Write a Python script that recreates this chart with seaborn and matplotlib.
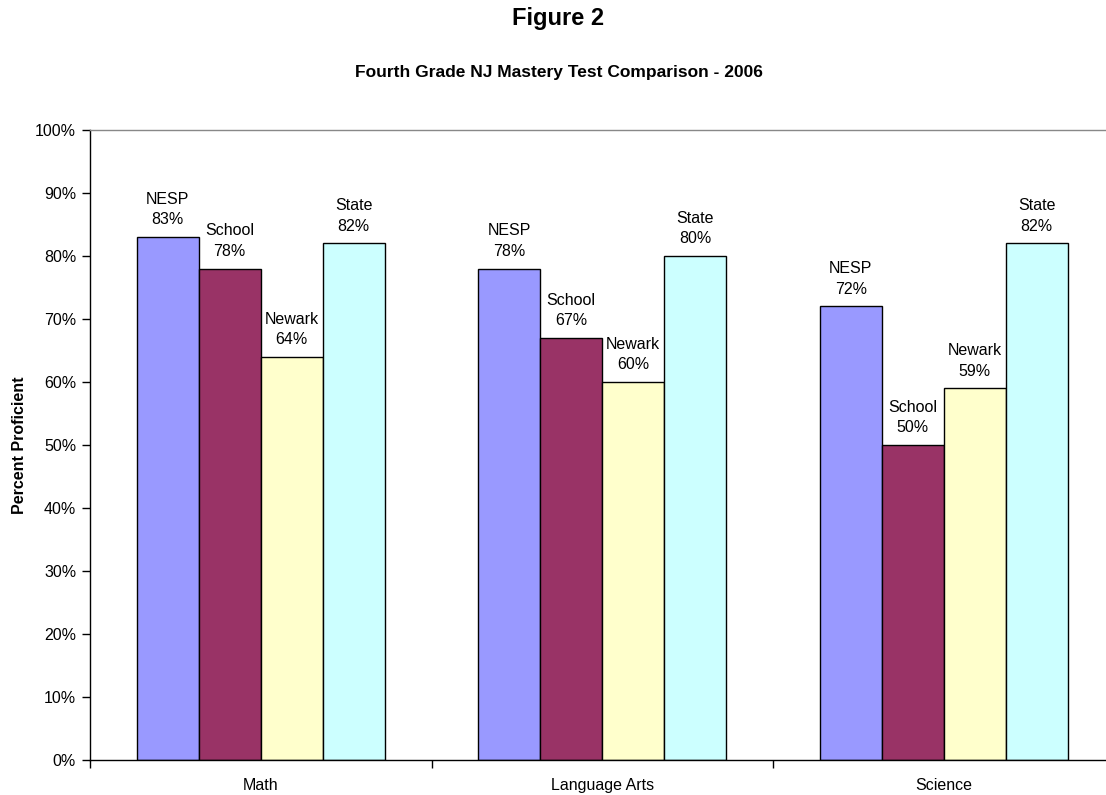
import matplotlib
matplotlib.use("Agg")
import matplotlib.pyplot as plt
import seaborn as sns
import pandas as pd
from matplotlib.ticker import PercentFormatter

categories = ["Math", "Language Arts", "Science"]
series = ["NESP", "School", "Newark", "State"]
nesp = [83, 78, 72]
school = [78, 67, 50]
newark = [64, 60, 59]
state = [82, 80, 82]
colors = ["#9999FF", "#993366", "#FFFFCC", "#CCFFFF"]

rows = []
for s, vals in zip(series, [nesp, school, newark, state]):
    for c, v in zip(categories, vals):
        rows.append({"Category": c, "Series": s, "Value": v})
df = pd.DataFrame(rows)

sns.set_theme(style="white")
plt.rcParams["font.family"] = ["Liberation Sans", "DejaVu Sans"]
plt.rcParams["font.stretch"] = "normal"
plt.rcParams["text.color"] = "black"
plt.rcParams["axes.labelcolor"] = "black"
plt.rcParams["xtick.color"] = "black"
plt.rcParams["ytick.color"] = "black"

fig = plt.figure(figsize=(11.06, 7.95), dpi=100)
W, H = 1106, 795
ax = fig.add_axes([90 / W, 1 - 760 / H, (1114.5 - 90) / W, (760 - 130) / H])

sns.barplot(data=df, x="Category", y="Value", hue="Series", order=categories,
            hue_order=series, palette=colors, edgecolor="black", linewidth=1,
            width=248 / 341.5, saturation=1, ax=ax, legend=False)

for cont, s in zip(ax.containers, series):
    for bar in cont:
        h = bar.get_height()
        ax.annotate(f"{s}\n{h:.0f}%", (bar.get_x() + bar.get_width() / 2, h),
                    xytext=(0, 7), textcoords="offset points", ha="center",
                    va="bottom", fontsize=11.5, linespacing=1.45, color="black")

ax.set_xlim(-0.5, 2.5)
ax.set_ylim(0, 100)
ax.set_yticks(range(0, 101, 10))
ax.yaxis.set_major_formatter(PercentFormatter(decimals=0))
ax.set_xticks([-0.5, 0.5, 1.5, 2.5])
ax.set_xticklabels([])
ax.set_xticks([0, 1, 2], minor=True)
ax.set_xticklabels(categories, minor=True)
ax.tick_params(axis="x", which="major", length=6, width=1, color="black", direction="out", bottom=True)
ax.tick_params(axis="x", which="minor", length=0, labelsize=11.5, pad=13, labelcolor="black")
ax.tick_params(axis="y", length=6, width=1, color="black", direction="out", left=True,
               labelsize=11.5, pad=4, labelcolor="black")
ax.set_xlabel("")
ax.set_ylabel("Percent Proficient", fontsize=11.5, fontweight="bold", labelpad=6, color="black")

for side in ["left", "bottom"]:
    ax.spines[side].set_color("black")
    ax.spines[side].set_linewidth(1)
ax.spines["top"].set_color("#888888")
ax.spines["top"].set_linewidth(1)
ax.spines["right"].set_visible(False)
ax.grid(False)

fig.text(558 / W, 1 - 19 / H, "Figure 2", ha="center", va="center", fontsize=17,
         fontweight="bold", color="black", fontstretch="normal")
fig.text(559 / W, 1 - 73 / H, "Fourth Grade NJ Mastery Test Comparison - 2006", ha="center",
         va="center", fontsize=12.5, fontweight="bold", color="black")

fig.savefig("out.png", dpi=100)
